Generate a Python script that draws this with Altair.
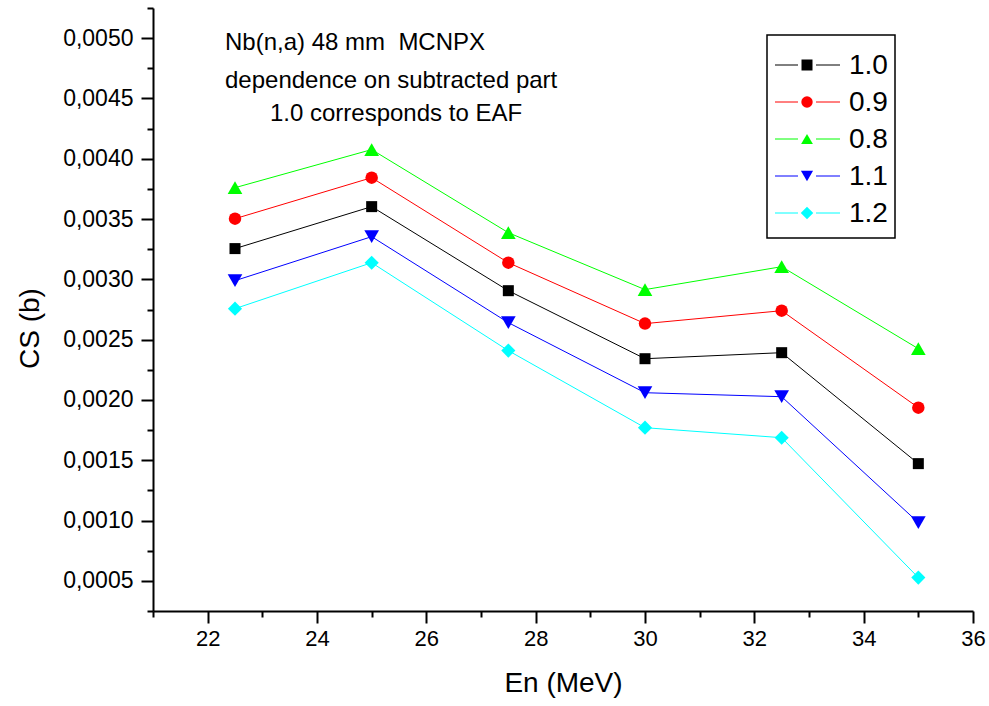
import altair as alt
import pandas as pd

# ---------------- data ----------------
energy = [22.5, 25.0, 27.5, 30.0, 32.5, 35.0]
series_names = ["1.0", "0.9", "0.8", "1.1", "1.2"]
cs_10 = [0.003255, 0.003603, 0.002906, 0.002342, 0.002392, 0.001472]
cs_09 = [0.003503, 0.003843, 0.003138, 0.002633, 0.002740, 0.001936]
cs_08 = [0.003760, 0.004076, 0.003387, 0.002915, 0.003105, 0.002425]
cs_11 = [0.002989, 0.003354, 0.002641, 0.002060, 0.002027, 0.000983]
cs_12 = [0.002757, 0.003138, 0.002409, 0.001770, 0.001687, 0.000527]

x_major = [22, 24, 26, 28, 30, 32, 34, 36]
x_minor = [21, 23, 25, 27, 29, 31, 33, 35]
y_major = [0.0005, 0.0010, 0.0015, 0.0020, 0.0025, 0.0030, 0.0035, 0.0040, 0.0045, 0.0050]
y_minor = [0.00025, 0.00075, 0.00125, 0.00175, 0.00225, 0.00275, 0.00325,
           0.00375, 0.00425, 0.00475, 0.00525]

annotation_lines = ["Nb(n,a) 48 mm\u00a0 MCNPX",
                    "dependence on subtracted part",
                    "1.0 corresponds to EAF"]

# ---------------- styles ----------------
series_colors = ["#000000", "#ff0000", "#00ff00", "#0000ff", "#00ffff"]
marker_shapes = ["square", "circle", "triangle-up", "triangle-down", "diamond"]
marker_sizes = [121, 156, 215, 215, 200]
FONT = "Liberation Sans, Arial, sans-serif"

rows = []
for name, vals in zip(series_names, [cs_10, cs_09, cs_08, cs_11, cs_12]):
    for e, v in zip(energy, vals):
        rows.append({"En": e, "CS": v, "series": name})
df = pd.DataFrame(rows)
legend_df = pd.DataFrame({"series": series_names})

x_scale = alt.Scale(domain=[21, 36], nice=False, zero=False)
y_scale = alt.Scale(domain=[0.00025, 0.00525], nice=False, zero=False)

x_main = alt.X(
    "En:Q", scale=x_scale,
    axis=alt.Axis(
        orient="bottom", values=x_major, tickSize=12,
        title="En (MeV)", grid=False,
        domainColor="black", domainWidth=2, tickColor="black", tickWidth=2,
        labelFont=FONT, labelFontSize=22, labelColor="black", labelPadding=5,
        labelOverlap=False, labelFlush=False,
        titleFont=FONT, titleFontSize=28, titleFontWeight="normal", titleColor="black",
        titlePadding=20,
    ),
)
y_main = alt.Y(
    "CS:Q", scale=y_scale,
    axis=alt.Axis(
        orient="left", values=y_major, tickSize=12,
        labelExpr="replace(format(datum.value, '.4f'), '.', ',')",
        title="CS (b)", grid=False, titleY=320,
        domainColor="black", domainWidth=2, tickColor="black", tickWidth=2,
        labelFont=FONT, labelFontSize=23, labelColor="black", labelPadding=8,
        labelOverlap=False, labelFlush=False,
        titleFont=FONT, titleFontSize=28, titleFontWeight="normal", titleColor="black",
        titlePadding=18,
    ),
)
x_min = alt.X(
    "En:Q", scale=x_scale,
    axis=alt.Axis(orient="bottom", values=x_minor, tickSize=6, labels=False, domain=False,
                  title=None, grid=False, tickColor="black", tickWidth=2),
)
y_min = alt.Y(
    "CS:Q", scale=y_scale,
    axis=alt.Axis(orient="left", values=y_minor, tickSize=6, labels=False, domain=False,
                  title=None, grid=False, tickColor="black", tickWidth=2),
)

color_scale = alt.Scale(domain=series_names, range=series_colors)

lines = alt.Chart(df).mark_line(strokeWidth=1).encode(
    x=x_main, y=y_main,
    color=alt.Color("series:N", scale=color_scale, legend=None),
)

minor_axes = alt.Chart(df).transform_filter("false").mark_point(opacity=0).encode(
    x=x_min, y=y_min,
)

point_layers = []
for name, col, shp, sz in zip(series_names, series_colors, marker_shapes, marker_sizes):
    point_layers.append(
        alt.Chart(df).transform_filter(alt.datum.series == name).mark_point(
            filled=True, opacity=1, shape=shp, size=sz, color=col
        ).encode(
            x=alt.X("En:Q", scale=x_scale, axis=None),
            y=alt.Y("CS:Q", scale=y_scale, axis=None),
        )
    )

# ---------------- legend (drawn as a small key) ----------------
legend_y = alt.Y("series:N", scale=alt.Scale(type="point", domain=series_names,
                                             range=[57, 205], padding=0), axis=None)
legend_box = alt.Chart(pd.DataFrame({"k": [0]})).mark_rect(
    fill="white", stroke="black", strokeWidth=1.5
).encode(x=alt.value(614), x2=alt.value(742), y=alt.value(27), y2=alt.value(230))
legend_seg_left = alt.Chart(legend_df).mark_rule(strokeWidth=1).encode(
    x=alt.value(622), x2=alt.value(645), y=legend_y,
    color=alt.Color("series:N", scale=color_scale, legend=None),
)
legend_seg_right = alt.Chart(legend_df).mark_rule(strokeWidth=1).encode(
    x=alt.value(663), x2=alt.value(687), y=legend_y,
    color=alt.Color("series:N", scale=color_scale, legend=None),
)
legend_marks = alt.Chart(legend_df).mark_point(filled=True, opacity=1).encode(
    x=alt.value(654), y=legend_y,
    color=alt.Color("series:N", scale=color_scale, legend=None),
    shape=alt.Shape("series:N", scale=alt.Scale(domain=series_names, range=marker_shapes), legend=None),
    size=alt.Size("series:N", scale=alt.Scale(domain=series_names, range=marker_sizes), legend=None),
)
legend_labels = alt.Chart(legend_df).mark_text(
    font=FONT, fontSize=28, color="black", align="left", baseline="middle", dy=1
).encode(x=alt.value(696), y=legend_y, text="series:N")


def note(text, x, y, align):
    return alt.Chart(pd.DataFrame({"t": [text]})).mark_text(
        font=FONT, fontSize=24, color="black", align=align, baseline="alphabetic"
    ).encode(x=alt.value(x), y=alt.value(y), text="t:N")

t1 = note(annotation_lines[0], 72, 42, "left")
t2 = note(annotation_lines[1], 72, 80, "left")
t3 = note(annotation_lines[2], 243, 113, "center")

chart = alt.layer(
    lines, minor_axes, *point_layers,
    legend_box, legend_seg_left, legend_seg_right, legend_marks, legend_labels,
    t1, t2, t3,
).resolve_axis(
    x="independent", y="independent"
).resolve_scale(
    y="independent"
).properties(
    width=820, height=603,
    padding={"left": 153, "top": 8, "right": 16, "bottom": 95},
    autosize="none",
).configure_view(stroke=None)

chart.save("out.html", embed_options={"renderer": "svg", "actions": False})
